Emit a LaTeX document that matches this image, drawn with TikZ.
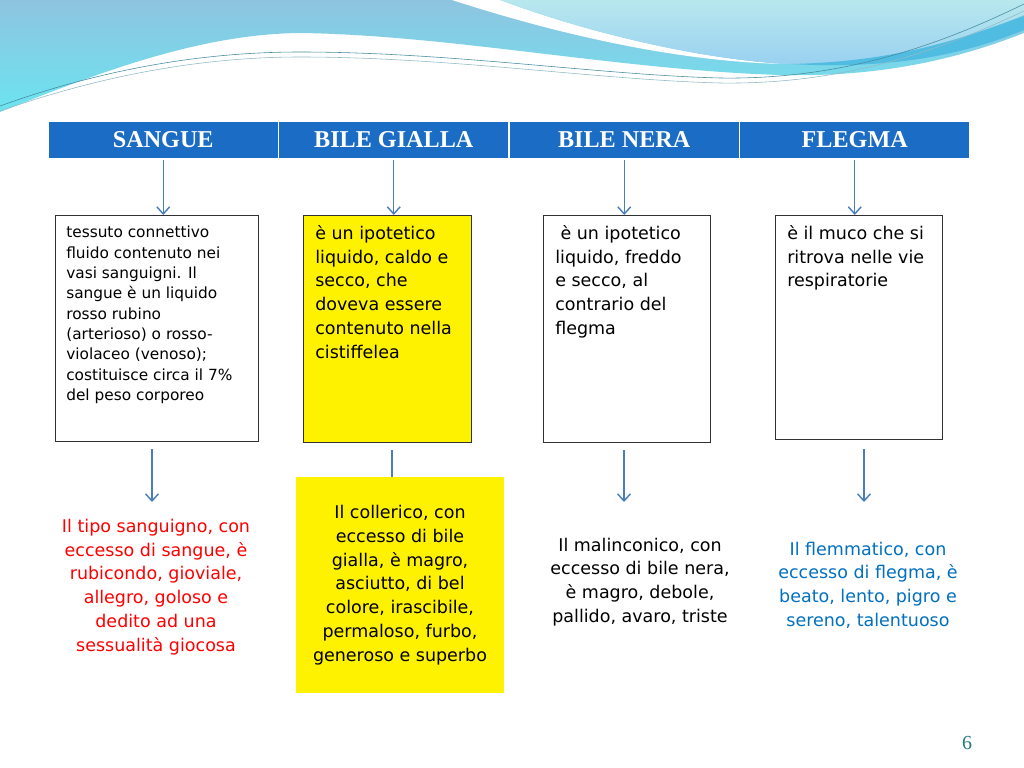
\documentclass[tikz,border=0pt]{standalone}
\usepackage{fontspec}
\setmainfont{DejaVu Sans}
\newfontfamily\headfont{Liberation Serif}
\usetikzlibrary{arrows.meta}
\definecolor{headblue}{RGB}{26,108,196}
\definecolor{arrowblue}{RGB}{74,126,187}
\definecolor{textblue}{RGB}{0,112,192}
\definecolor{boxgray}{RGB}{50,50,50}
\definecolor{numteal}{RGB}{35,120,130}
\definecolor{waveA}{RGB}{142,196,224}
\definecolor{waveB}{RGB}{108,228,240}
\definecolor{paleA}{RGB}{184,232,238}
\definecolor{paleB}{RGB}{152,208,240}
\definecolor{stripe}{RGB}{80,188,225}
\definecolor{thinline}{RGB}{70,140,160}

\begin{document}
\begin{tikzpicture}[x=0.703125pt, y=-0.703125pt,
  head/.style={fill=headblue, draw=white, line width=0.8pt, text=white,
    font=\headfont\bfseries\fontsize{17}{20}\selectfont,
    minimum width=162.07pt, minimum height=26.7pt, inner sep=0pt},
  descbox/.style={draw=boxgray, line width=1pt, anchor=north west, inner sep=0pt},
  desc/.style={anchor=north west, align=left, inner sep=0pt,
    font=\fontsize{12.3}{16.7}\selectfont},
  tipo/.style={align=center, inner sep=0pt, font=\fontsize{12.3}{16.7}\selectfont},
  freccia/.style={arrowblue, line width=1pt, -{Straight Barb[length=5pt,width=9pt]}},
  linea/.style={arrowblue, line width=1pt}]
\useasboundingbox (0,0) rectangle (1024,768);
\fill[white] (0,0) rectangle (1024,768);
% waves at the top
\shade[top color=waveA, bottom color=waveB] (0,0) -- (0,112)
  .. controls (100,72) and (200,34) .. (300,33)
  .. controls (450,35) and (620,70) .. (780,75)
  .. controls (900,78) and (980,50) .. (1024,33) -- (1024,0) -- cycle;
\fill[white] (452,0) .. controls (560,35) and (680,62) .. (785,64)
  .. controls (690,58) and (580,30) .. (500,0) -- cycle;
\shade[top color=paleA, bottom color=paleB] (500,0)
  .. controls (580,30) and (690,58) .. (785,64)
  .. controls (880,66) and (960,40) .. (1024,15) -- (1024,0) -- cycle;
\fill[stripe] (790,64) .. controls (900,62) and (970,36) .. (1024,16)
  -- (1024,30) .. controls (970,52) and (900,70) .. (790,64) -- cycle;
\draw[thinline, line width=0.4pt] (0,106) .. controls (100,70) and (200,52) .. (300,52)
  .. controls (450,52) and (600,75) .. (720,78)
  .. controls (850,80) and (950,40) .. (1024,4);
\draw[thinline!60, line width=0.4pt] (0,111) .. controls (100,76) and (200,57) .. (300,57)
  .. controls (450,57) and (600,80) .. (720,83)
  .. controls (850,85) and (950,46) .. (1024,11);
% header row
\node[head] (hSangue) at (163.25,140) {SANGUE};
\node[head] (hGialla) at (393.75,140) {BILE GIALLA};
\node[head] (hNera) at (624.25,140) {BILE NERA};
\node[head] (hFlegma) at (854.75,140) {FLEGMA};
% description boxes
\node[descbox, minimum width=142.7pt, minimum height=158.9pt] (dSangue) at (55,215) {};
\node[descbox, fill=yellow, minimum width=118.1pt, minimum height=159.6pt] (dGialla) at (303,215) {};
\node[descbox, minimum width=117.4pt, minimum height=159.6pt] (dNera) at (543,215) {};
\node[descbox, minimum width=117.4pt, minimum height=157.5pt] (dFlegma) at (775,215) {};
\node[desc, font=\fontsize{10.8}{14.3}\selectfont] at ([shift={(11,11)}]dSangue.north west)
  {tessuto connettivo\\fluido contenuto nei\\vasi sanguigni. Il\\sangue è un liquido\\rosso rubino\\(arterioso) o rosso-\\violaceo (venoso);\\costituisce circa il 7\%\\del peso corporeo};
\node[desc] at ([shift={(12,10)}]dGialla.north west)
  {è un ipotetico\\liquido, caldo e\\secco, che\\doveva essere\\contenuto nella\\cistiffelea};
\node[desc] at ([shift={(12,10)}]dNera.north west)
  {\hspace*{0.3em}è un ipotetico\\liquido, freddo\\e secco, al\\contrario del\\flegma};
\node[desc] at ([shift={(12,10)}]dFlegma.north west)
  {è il muco che si\\ritrova nelle vie\\respiratorie};
% arrows from header to boxes
\foreach \h/\d in {hSangue/dSangue, hGialla/dGialla, hNera/dNera, hFlegma/dFlegma}
  \draw[freccia] (\h.south) -- (\h.south |- \d.north);
% temperaments
\node[tipo, text=red] (tSangue) at (156,587)
  {Il tipo sanguigno, con\\eccesso di sangue, è\\rubicondo, gioviale,\\allegro, goloso e\\dedito ad una\\sessualità giocosa};
\node[tipo, fill=yellow, minimum width=146.25pt, minimum height=151.9pt] (tGialla) at (400,585)
  {Il collerico, con\\eccesso di bile\\gialla, è magro,\\asciutto, di bel\\colore, irascibile,\\permaloso, furbo,\\generoso e superbo};
\node[tipo] (tNera) at (640,582)
  {Il malinconico, con\\eccesso di bile nera,\\è magro, debole,\\pallido, avaro, triste};
\node[tipo, text=textblue] (tFlegma) at (868,585)
  {Il flemmatico, con\\eccesso di flegma, è\\beato, lento, pigro e\\sereno, talentuoso};
% arrows from boxes to temperaments
\coordinate (pSangue) at (152,502);
\coordinate (pNera) at (624,502);
\coordinate (pFlegma) at (864,502);
\draw[freccia] (pSangue |- dSangue.south) ++(0,7) -- (pSangue);
\draw[freccia] (pNera |- dNera.south) ++(0,7) -- (pNera);
\draw[freccia] (pFlegma |- dFlegma.south) ++(0,9) -- (pFlegma);
\draw[linea] (392,0 |- dGialla.south) ++(0,7) -- (392,0 |- tGialla.north);
% page number
\node[font=\headfont\fontsize{14}{16}\selectfont, text=numteal] (pagina) at (967,743) {6};
\end{tikzpicture}
\end{document}
